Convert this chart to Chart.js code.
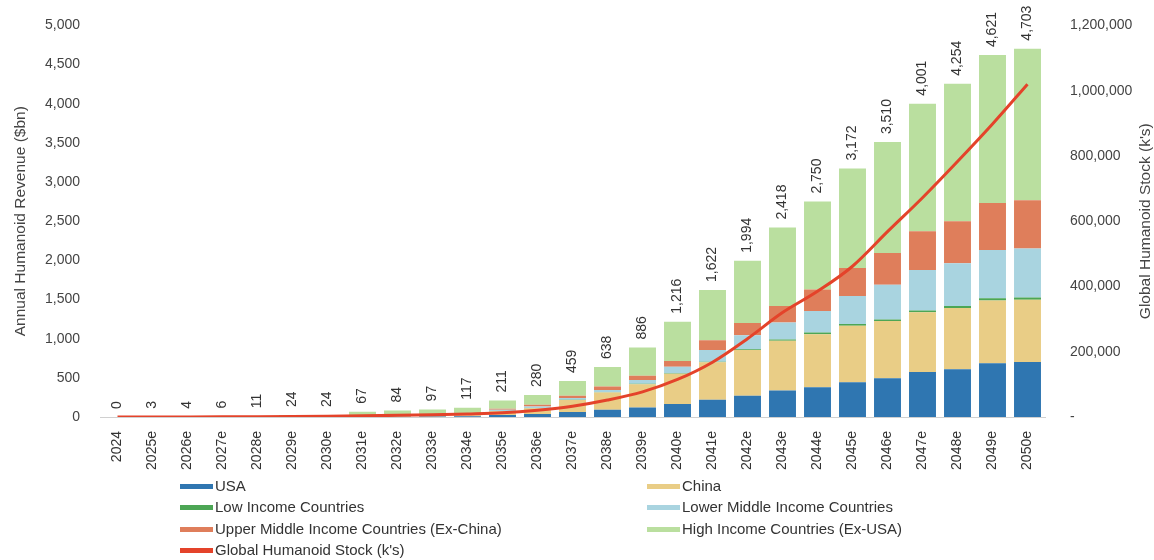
<!DOCTYPE html>
<html>
<head>
<meta charset="utf-8">
<script src="https://cdn.jsdelivr.net/npm/chart.js@4.4.1/dist/chart.umd.min.js"></script>
<style>
  html, body { margin: 0; padding: 0; background: #fff; }
  #wrap { width: 1154px; height: 560px; }
</style>
</head>
<body>
<div id="wrap"><canvas id="myChart" width="1154" height="560"></canvas></div>
<script>
var years = ["2024","2025e","2026e","2027e","2028e","2029e","2030e","2031e","2032e","2033e",
  "2034e","2035e","2036e","2037e","2038e","2039e","2040e","2041e","2042e","2043e",
  "2044e","2045e","2046e","2047e","2048e","2049e","2050e"];

// annual revenue, $bn
var usa        = [0,0,0,0,1,1,1,3,4,5,8,25,38,63,93,122,165,220,270,339,381,444,495,575,609,685,702];
var china      = [0,0,1,1,1,2,2,6,8,10,15,50,74,154,220,296,387,478,584,634,677,720,730,761,783,804,795];
var lowInc     = [0,0,0,0,0,0,0,0,1,1,1,1,2,3,4,5,6,8,10,15,20,22,20,25,25,28,28];
var lowerMid   = [0,0,0,0,1,2,2,4,5,6,8,15,21,21,29,50,84,148,181,218,276,358,445,517,546,615,628];
var upperMid   = [0,0,0,1,1,2,2,5,6,7,8,15,21,29,42,55,72,127,156,211,275,360,405,495,537,600,613];
var highInc    = [0,3,3,4,7,17,17,49,60,68,77,105,124,189,250,358,502,641,793,1001,1121,1268,1415,1628,1754,1889,1937];
var totals     = [0,3,4,6,11,24,24,67,84,97,117,211,280,459,638,886,1216,1622,1994,2418,2750,3172,3510,4001,4254,4621,4703];

// global humanoid stock, k's
var stock = [0,100,300,600,1000,1600,2400,3500,5000,7000,9500,13000,21000,33000,52000,77000,
  115000,168000,240000,320000,385000,462000,568000,672000,783000,898000,1020000];

var fmt = function (v) { return v.toLocaleString('en-US'); };
var font = '"Liberation Sans", Arial, sans-serif';

// totals written above each bar, rotated
var totalsPlugin = {
  id: 'totals',
  afterDatasetsDraw: function (chart) {
    var ctx = chart.ctx, xs = chart.scales.x, ys = chart.scales.y;
    ctx.save();
    ctx.font = '14px ' + font;
    ctx.fillStyle = '#333';
    ctx.textAlign = 'left';
    ctx.textBaseline = 'middle';
    for (var i = 0; i < totals.length; i++) {
      var x = xs.getPixelForValue(i);
      var y = ys.getPixelForValue(totals[i]) - 8;
      ctx.save();
      ctx.translate(x, y);
      ctx.rotate(-Math.PI / 2);
      ctx.fillText(fmt(totals[i]), 0, 0);
      ctx.restore();
    }
    ctx.restore();
  }
};

// both axis titles read bottom to top
var titlesPlugin = {
  id: 'titles',
  afterDraw: function (chart) {
    var ctx = chart.ctx, a = chart.chartArea;
    var mid = (a.top + a.bottom) / 2;
    ctx.save();
    ctx.font = '15.5px ' + font;
    ctx.fillStyle = '#444';
    ctx.textAlign = 'center';
    ctx.textBaseline = 'middle';
    [[21, 'Annual Humanoid Revenue ($bn)'], [1146, "Global Humanoid Stock (k's)"]].forEach(function (t) {
      ctx.save();
      ctx.translate(t[0], mid);
      ctx.rotate(-Math.PI / 2);
      ctx.fillText(t[1], 0, 0);
      ctx.restore();
    });
    ctx.restore();
  }
};

// two column legend under the axis
var legendPlugin = {
  id: 'legend2',
  afterDraw: function (chart) {
    var ctx = chart.ctx;
    var cols = [180, 647], rows = [487, 508, 530, 551];
    ctx.save();
    ctx.font = '15px ' + font;
    ctx.textBaseline = 'middle';
    ctx.textAlign = 'left';
    chart.data.datasets.forEach(function (ds, k) {
      var x = cols[k % 2], y = rows[Math.floor(k / 2)];
      ctx.fillStyle = ds.type === 'line' ? ds.borderColor : ds.backgroundColor;
      ctx.fillRect(x, y - 3, 33, 5);
      ctx.fillStyle = '#333';
      ctx.fillText(ds.label, x + 35, y);
    });
    ctx.restore();
  }
};

function bar(label, data, color) {
  return { type: 'bar', label: label, data: data, backgroundColor: color, borderWidth: 0,
    yAxisID: 'y', stack: 'rev', order: 1, barPercentage: 0.77, categoryPercentage: 1.0 };
}

var ctx = document.getElementById('myChart');
var myChart = new Chart(ctx, {
  data: {
    labels: years,
    datasets: [
      bar('USA', usa, '#2f76b1'),
      bar('China', china, '#e9cd86'),
      bar('Low Income Countries', lowInc, '#4ca655'),
      bar('Lower Middle Income Countries', lowerMid, '#a9d4e0'),
      bar('Upper Middle Income Countries (Ex-China)', upperMid, '#df7e5b'),
      bar('High Income Countries (Ex-USA)', highInc, '#badf9f'),
      { type: 'line', label: "Global Humanoid Stock (k's)", data: stock, yAxisID: 'y1', order: 0,
        borderColor: '#e4432a', borderWidth: 3, pointRadius: 0, cubicInterpolationMode: 'monotone', fill: false }
    ]
  },
  options: {
    responsive: false,
    animation: false,
    layout: { padding: { top: 23, left: 0, right: 0, bottom: 0 } },
    plugins: { legend: { display: false }, tooltip: { enabled: false } },
    scales: {
      x: {
        stacked: true,
        grid: { display: false },
        border: { display: true, color: '#d0d0d0' },
        ticks: { autoSkip: false, minRotation: 90, maxRotation: 90, padding: 6, color: '#333', font: { size: 14, family: font } },
        afterFit: function (s) { s.height = 143; }
      },
      y: {
        position: 'left', stacked: true, min: 0, max: 5000,
        grid: { display: false }, border: { display: false },
        ticks: { stepSize: 500, padding: 12, color: '#444', font: { size: 14, family: font }, callback: function (v) { return fmt(v); } },
        afterFit: function (s) { s.width = 100; }
      },
      y1: {
        position: 'right', min: 0, max: 1200000,
        grid: { display: false }, border: { display: false },
        ticks: { stepSize: 200000, padding: 17, color: '#444', font: { size: 14, family: font }, callback: function (v) { return v === 0 ? '-' : fmt(v); } },
        afterFit: function (s) { s.width = 109; }
      }
    }
  },
  plugins: [totalsPlugin, titlesPlugin, legendPlugin]
});
</script>
</body>
</html>
